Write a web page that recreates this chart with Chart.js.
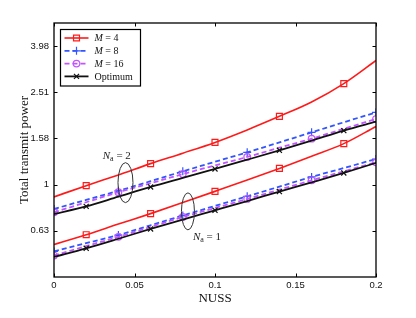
<!DOCTYPE html>
<html><head><meta charset="utf-8">
<script src="https://cdn.jsdelivr.net/npm/chart.js@4.4.0/dist/chart.umd.min.js"></script>
<style>html,body{margin:0;padding:0;background:#fff}#wrap{width:416px;height:318px}</style>
</head><body><div id="wrap"><canvas id="c" width="416" height="318"></canvas></div>
<script>
// ---- data ----
const nuss = [0, 0.02, 0.04, 0.06, 0.08, 0.10, 0.12, 0.14, 0.16, 0.18, 0.20];
const m4Na2  = [0.885, 0.990, 1.102, 1.233, 1.368, 1.524, 1.726, 1.976, 2.28, 2.74, 3.45];
const m8Na2  = [0.785, 0.859, 0.940, 1.035, 1.142, 1.256, 1.380, 1.524, 1.684, 1.862, 2.056];
const m16Na2 = [0.759, 0.839, 0.927, 1.014, 1.111, 1.211, 1.318, 1.445, 1.581, 1.746, 1.923];
const optNa2 = [0.746, 0.805, 0.887, 0.977, 1.069, 1.169, 1.282, 1.408, 1.552, 1.714, 1.875];
const m4Na1  = [0.550, 0.607, 0.675, 0.749, 0.836, 0.935, 1.047, 1.176, 1.327, 1.505, 1.786];
const m8Na1  = [0.514, 0.558, 0.605, 0.667, 0.735, 0.809, 0.890, 0.980, 1.080, 1.180, 1.291];
const m16Na1 = [0.493, 0.542, 0.594, 0.656, 0.724, 0.792, 0.867, 0.951, 1.044, 1.142, 1.249];
const optNa1 = [0.486, 0.530, 0.583, 0.643, 0.706, 0.774, 0.849, 0.933, 1.023, 1.124, 1.242];
const seriesLabels = ['M = 4', 'M = 8', 'M = 16', 'Optimum'];
const xTickVals = [0, 0.05, 0.1, 0.15, 0.2];
const xTickLabels = ['0', '0.05', '0.1', '0.15', '0.2'];
const yTickVals = [0.631, 1, 1.585, 2.512, 3.981];
const yTickLabels = ['0.63', '1', '1.58', '2.51', '3.98'];
const groupLabels = ['2', '1'];

// ---- styles ----
const RED = '#ff1a1a', BLUE = '#3355ff', MAG = '#c155ff', BLK = '#111111';
const styleOf = [
  {c: RED, dash: [], ps: 'rect', r: 4.2, odd: true, w: 1.6, order: 3},
  {c: BLUE, dash: [5, 3], ps: 'cross', r: 4, odd: false, w: 1.8, order: 2},
  {c: MAG, dash: [5, 3], ps: 'circle', r: 3.3, odd: false, w: 1.8, order: 1},
  {c: BLK, dash: [], ps: 'crossRot', r: 3.6, odd: true, w: 1.8, order: 0}
];
function mk(vals, si) {
  const s = styleOf[si];
  return {
    label: seriesLabels[si],
    data: vals.map((v, i) => ({x: nuss[i], y: v})),
    borderColor: s.c, backgroundColor: 'rgba(0,0,0,0)',
    borderWidth: s.w, borderDash: s.dash,
    pointStyle: s.ps, pointBorderColor: s.c, pointBackgroundColor: 'rgba(0,0,0,0)',
    pointBorderWidth: 1.2,
    pointRadius: nuss.map((_, i) => ((i % 2 === 1) === s.odd) ? s.r : 0),
    pointHoverRadius: 0,
    cubicInterpolationMode: 'monotone', order: s.order, fill: false
  };
}
const datasets = [
  mk(m4Na2, 0), mk(m8Na2, 1), mk(m16Na2, 2), mk(optNa2, 3),
  mk(m4Na1, 0), mk(m8Na1, 1), mk(m16Na1, 2), mk(optNa1, 3)
];

function drawMarker(ctx, ps, x, y, r, c) {
  ctx.save(); ctx.strokeStyle = c; ctx.fillStyle = 'rgba(0,0,0,0)'; ctx.lineWidth = 1.2; ctx.setLineDash([]);
  Chart.helpers.drawPoint(ctx, {pointStyle: ps, radius: r, borderWidth: 1.2, rotation: 0}, x, y);
  ctx.restore();
}
function drawNa(ctx, cx, cy, num) {
  ctx.save(); ctx.fillStyle = '#222'; ctx.textBaseline = 'alphabetic';
  const f1 = 'italic 11px "Liberation Serif"', f2 = '8px "Liberation Serif"', f3 = '11px "Liberation Serif"';
  ctx.font = f1; const wN = ctx.measureText('N').width;
  ctx.font = f2; const wa = ctx.measureText('a').width;
  ctx.font = f3; const wr = ctx.measureText(' = ' + num).width;
  let x = cx - (wN + wa + wr) / 2, y = cy + 4;
  ctx.font = f1; ctx.fillText('N', x, y); x += wN;
  ctx.font = f2; ctx.fillText('a', x, y + 2); x += wa;
  ctx.font = f3; ctx.fillText(' = ' + num, x, y);
  ctx.restore();
}

const overlay = {
  id: 'overlay',
  afterDraw(chart) {
    const ctx = chart.ctx, a = chart.chartArea;
    const xs = chart.scales.x, ys = chart.scales.y;
    ctx.save();
    ctx.strokeStyle = '#000'; ctx.lineWidth = 1.3; ctx.setLineDash([]);
    ctx.strokeRect(a.left, a.top, a.right - a.left, a.bottom - a.top);
    ctx.lineWidth = 1;
    const tl = 3.5;
    xTickVals.forEach(v => {
      const p = Math.round(xs.getPixelForValue(v)) + 0.5;
      ctx.beginPath(); ctx.moveTo(p, a.bottom); ctx.lineTo(p, a.bottom - tl);
      ctx.moveTo(p, a.top); ctx.lineTo(p, a.top + tl); ctx.stroke();
    });
    yTickVals.forEach(v => {
      const p = Math.round(ys.getPixelForValue(v)) + 0.5;
      ctx.beginPath(); ctx.moveTo(a.left, p); ctx.lineTo(a.left + tl, p);
      ctx.moveTo(a.right, p); ctx.lineTo(a.right - tl, p); ctx.stroke();
    });
    // ellipses + group labels
    ctx.strokeStyle = '#333'; ctx.lineWidth = 1;
    const ells = [{x: 0.0444, y: 1.02, rx: 7.5, ry: 20}, {x: 0.0832, y: 0.766, rx: 6.5, ry: 18.5}];
    ells.forEach(e => {
      ctx.beginPath();
      ctx.ellipse(xs.getPixelForValue(e.x), ys.getPixelForValue(e.y), e.rx, e.ry, 0, 0, Math.PI * 2);
      ctx.stroke();
    });
    drawNa(ctx, xs.getPixelForValue(0.039), ys.getPixelForValue(1.349), groupLabels[0]);
    drawNa(ctx, xs.getPixelForValue(0.095), ys.getPixelForValue(0.601), groupLabels[1]);
    // legend
    const lx = a.left + 6.5, ly = a.top + 6.5, lw = 80, lh = 56.5;
    ctx.fillStyle = '#fff'; ctx.fillRect(lx, ly, lw, lh);
    ctx.strokeStyle = '#000'; ctx.lineWidth = 1.2; ctx.strokeRect(lx, ly, lw, lh);
    seriesLabels.forEach((lab, i) => {
      const s = styleOf[i], y = ly + 8.5 + i * 12.8;
      ctx.save(); ctx.strokeStyle = s.c; ctx.lineWidth = s.w; ctx.setLineDash(s.dash);
      ctx.beginPath(); ctx.moveTo(lx + 4, y); ctx.lineTo(lx + 28, y); ctx.stroke(); ctx.restore();
      drawMarker(ctx, s.ps, lx + 16, y, s.r, s.c);
      ctx.fillStyle = '#111'; ctx.textBaseline = 'middle';
      let tx = lx + 34;
      if (lab.startsWith('M ')) {
        ctx.font = 'italic 10px "Liberation Serif"'; ctx.fillText('M', tx, y + 0.5);
        tx += ctx.measureText('M').width;
        ctx.font = '10px "Liberation Serif"'; ctx.fillText(lab.slice(1), tx, y + 0.5);
      } else {
        ctx.font = '10px "Liberation Serif"'; ctx.fillText(lab, tx, y + 0.5);
      }
    });
    ctx.restore();
  }
};

new Chart(document.getElementById('c'), {
  type: 'line',
  data: {datasets},
  options: {
    responsive: false, animation: false, devicePixelRatio: 1,
    layout: {padding: {left: 0, top: 23, right: 40, bottom: 0}},
    plugins: {legend: {display: false}, tooltip: {enabled: false}},
    scales: {
      x: {
        type: 'linear', min: 0, max: 0.2,
        afterBuildTicks: s => { s.ticks = xTickVals.map(v => ({value: v})); },
        afterFit: s => { s.height = 41; },
        ticks: {autoSkip: false, maxRotation: 0, padding: 3, color: '#111',
          font: {family: '"Liberation Sans"', size: 9.5},
          callback: (v) => xTickLabels[xTickVals.indexOf(v)] ?? ''},
        grid: {display: false, drawTicks: false},
        border: {display: false},
        title: {display: true, text: 'NUSS', color: '#111',
          font: {family: '"Liberation Serif"', size: 13}, padding: {top: 0, bottom: 12}}
      },
      y: {
        type: 'logarithmic', min: 0.3981, max: 5.0119,
        afterBuildTicks: s => { s.ticks = yTickVals.map(v => ({value: v})); },
        afterFit: s => { s.width = 54; },
        ticks: {autoSkip: false, padding: 5, color: '#111',
          font: {family: '"Liberation Sans"', size: 9.5},
          callback: (v) => { const i = yTickVals.indexOf(v); return i >= 0 ? yTickLabels[i] : ''; }},
        grid: {display: false, drawTicks: false},
        border: {display: false},
        title: {display: true, text: 'Total transmit power', color: '#111',
          font: {family: '"Liberation Serif"', size: 13}, padding: {top: 17, bottom: 0}}
      }
    }
  },
  plugins: [overlay]
});
</script></body></html>
